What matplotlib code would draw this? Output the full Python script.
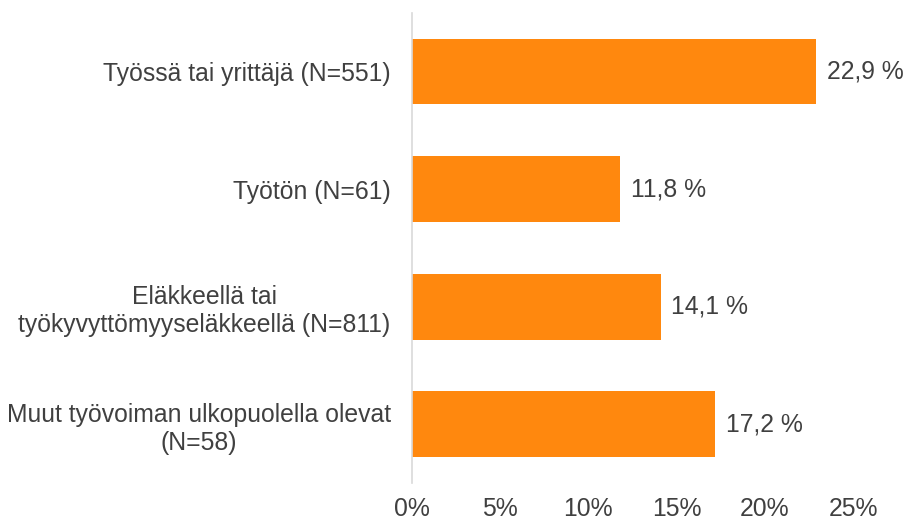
import matplotlib
matplotlib.use("Agg")
import matplotlib.pyplot as plt
from matplotlib.ticker import FuncFormatter, MultipleLocator

categories = [
    "Työssä tai yrittäjä (N=551)",
    "Työtön (N=61)",
    "Eläkkeellä tai\ntyökyvyttömyyseläkkeellä (N=811)",
    "Muut työvoiman ulkopuolella olevat\n(N=58)",
]
values = [22.9, 11.8, 14.1, 17.2]
value_labels = ["22,9 %", "11,8 %", "14,1 %", "17,2 %"]

plt.rcParams['font.family'] = ['Liberation Sans', 'DejaVu Sans']
text_color = "#404040"
fs = 17.8

fig = plt.figure(figsize=(9.06, 5.22), dpi=100)
W, H = 906, 522
x0, x1 = 411.5, 853
y_top, y_bot = 12.75, 483
ax = fig.add_axes([x0 / W, 1 - y_bot / H, (x1 - x0) / W, (y_bot - y_top) / H])

pos = list(range(len(categories)))
ax.barh(pos, values, height=0.56, color="#FF880E", zorder=2)
ax.set_ylim(len(categories) - 0.5, -0.5)
ax.set_xlim(0, 25)
ax.xaxis.set_major_locator(MultipleLocator(5))
ax.xaxis.set_major_formatter(FuncFormatter(lambda v, p: f"{int(round(v))}%"))
ax.set_yticks(pos)
ax.set_yticklabels(categories, ha="right", multialignment="center")

for p, v, lab in zip(pos, values, value_labels):
    ax.text(v + 0.62, p, lab, va="center", ha="left", fontsize=fs, color=text_color)

for s in ["top", "right", "bottom"]:
    ax.spines[s].set_visible(False)
ax.spines["left"].set_color("#D9D9D9")
ax.spines["left"].set_linewidth(1.2)
ax.tick_params(axis="both", length=0, labelsize=fs, colors=text_color)
ax.tick_params(axis="x", pad=10)
ax.tick_params(axis="y", pad=15)

fig.savefig("out.png", dpi=100)
